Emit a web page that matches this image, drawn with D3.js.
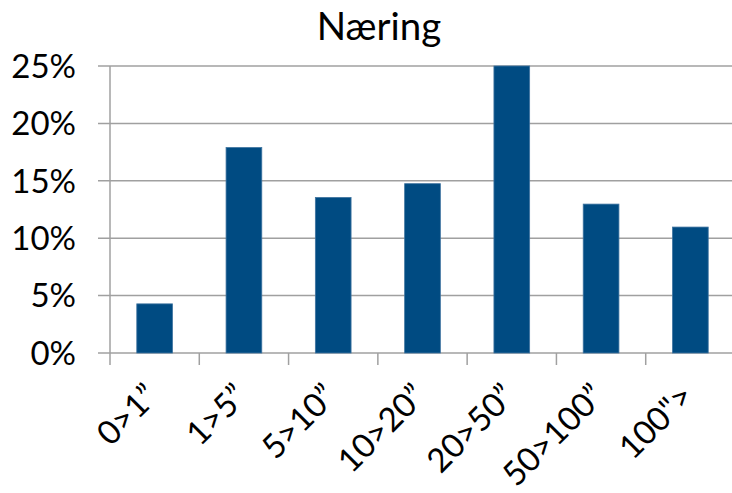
<!DOCTYPE html>
<html><head><meta charset="utf-8">
<script src="https://cdn.jsdelivr.net/npm/d3@7"></script>
<style>body{margin:0;background:#fff}svg{display:block}text{font-family:Lato,"Open Sans",sans-serif;fill:#000}</style>
</head><body>
<svg id="c" width="732" height="493"></svg>
<script>
const title = "Næring";
const categories = ["0>1”", "1>5”", "5>10”", "10>20”", "20>50”", "50>100”", "100\">"];
const values = [0.0428, 0.179, 0.1355, 0.1475, 0.25, 0.1297, 0.1097];
const yTicks = [0, 0.05, 0.10, 0.15, 0.20, 0.25];

const svg = d3.select("#c");
const pL = 110, pR = 735, pT = 66, pB = 353;
const x = d3.scaleBand().domain(categories).range([pL, pR]).paddingInner(0.6).paddingOuter(0.3);
const xt = d3.scaleBand().domain(categories).range([pL, pR]);
const y = d3.scaleLinear().domain([0, 0.25]).range([pB, pT]);

// gridlines
svg.append("g").selectAll("line").data(yTicks).join("line")
  .attr("x1", 98).attr("x2", 732).attr("y1", d => y(d)).attr("y2", d => y(d))
  .attr("stroke", "#a0a0a0").attr("stroke-width", 1.5);
// y axis line
svg.append("line").attr("x1", pL).attr("x2", pL).attr("y1", pT).attr("y2", pB + 12)
  .attr("stroke", "#a0a0a0").attr("stroke-width", 1.5);
// x ticks
svg.append("g").selectAll("line").data(categories.slice(1)).join("line")
  .attr("x1", d => xt(d)).attr("x2", d => xt(d))
  .attr("y1", pB).attr("y2", pB + 12)
  .attr("stroke", "#a0a0a0").attr("stroke-width", 1.5);

// bars
svg.append("g").selectAll("rect").data(values).join("rect")
  .attr("x", (d, i) => x(categories[i]))
  .attr("width", x.bandwidth())
  .attr("y", d => y(d))
  .attr("height", d => y(0) - y(d))
  .attr("fill", "#004b82")
  .attr("stroke", "#3f74a0").attr("stroke-width", 0.8);

// y labels
svg.append("g").selectAll("text").data(yTicks).join("text")
  .attr("x", 76).attr("y", d => y(d)).attr("dy", "0.36em")
  .attr("text-anchor", "end").style("font-size", "33px")
  .text(d => d3.format(".0%")(d));

// x labels
svg.append("g").selectAll("text").data(categories).join("text")
  .attr("transform", d => `translate(${xt(d) + xt.bandwidth()/2 - 3},${pB + 37}) rotate(-45)`)
  .attr("text-anchor", "end").attr("dy", "0.35em").style("font-size", "33px")
  .text(d => d);

// title
svg.append("text").attr("x", 379).attr("y", 40).attr("text-anchor", "middle")
  .style("font-size", "38.5px").text(title);
</script>
</body></html>
